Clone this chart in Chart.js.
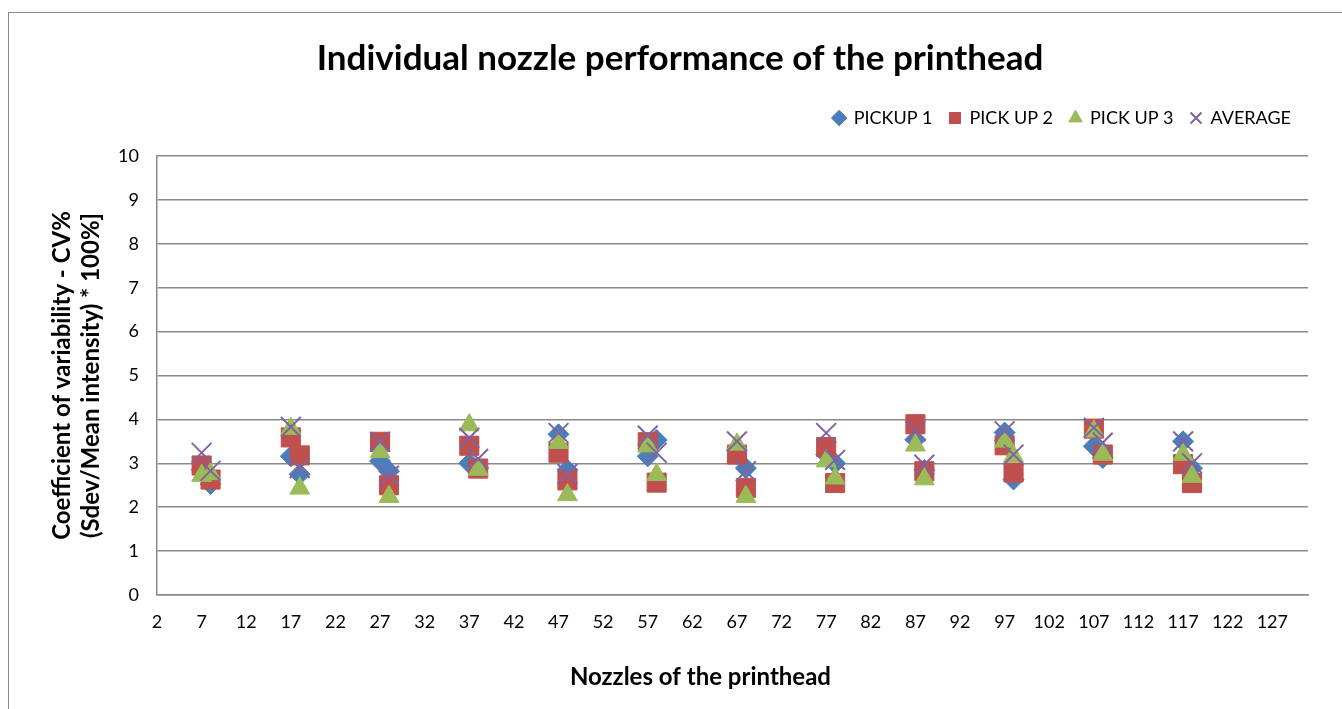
<!DOCTYPE html>
<html lang="en">
<head>
    <meta charset="UTF-8">
    <title>Individual nozzle performance of the printhead</title>
    <script src="https://cdn.jsdelivr.net/npm/chart.js"></script>
    <style>
        html, body { margin: 0; padding: 0; overflow: hidden; background: #fff; }
        #frame { position: absolute; left: 8px; top: 12px; width: 1400px; height: 800px; border: 1px solid #8a8a8a; }
        #nozzleChart { display: block; }
    </style>
</head>
<body>
    <div id="frame">
        <canvas id="nozzleChart" width="1333" height="696"></canvas>
    </div>

    <script>
        // nozzle numbers (x) and CV%
        const nozzles = [7, 8, 17, 18, 27, 28, 37, 38, 47, 48, 57, 58, 67, 68, 77, 78, 87, 88, 97, 98, 107, 108, 117, 118];
        const pickup1 = [2.85, 2.53, 3.16, 2.75, 3.05, 2.82, 3.00, 2.90, 3.66, 2.85, 3.16, 3.53, 3.30, 2.89, 3.20, 3.00, 3.54, 2.85, 3.70, 2.63, 3.39, 3.12, 3.50, 2.89];
        const pickup2 = [2.95, 2.63, 3.59, 3.18, 3.49, 2.50, 3.40, 2.88, 3.24, 2.61, 3.48, 2.56, 3.20, 2.44, 3.37, 2.55, 3.89, 2.82, 3.41, 2.79, 3.79, 3.20, 2.98, 2.55];
        const pickup3 = [2.72, 2.76, 3.79, 2.43, 3.26, 2.24, 3.87, 2.86, 3.47, 2.28, 3.39, 2.74, 3.43, 2.24, 3.05, 2.66, 3.41, 2.64, 3.50, 3.16, 3.73, 3.20, 3.20, 2.70];
        const average = [3.24, 2.83, 3.83, 2.89, 3.49, 2.72, 3.58, 3.10, 3.69, 2.76, 3.63, 3.24, 3.50, 2.82, 3.69, 3.08, 3.73, 2.97, 3.73, 3.20, 3.81, 3.47, 3.50, 3.00];
        const xTicks = [2, 7, 12, 17, 22, 27, 32, 37, 42, 47, 52, 57, 62, 67, 72, 77, 82, 87, 92, 97, 102, 107, 112, 117, 122, 127];

        const FONT = 'Lato, "Open Sans", sans-serif';
        const GRID = '#8a8a8a';

        function pts(values) {
            return values.map((v, i) => ({ x: nozzles[i], y: v }));
        }

        function series(label, values, style, color, radius, order) {
            return {
                label: label,
                data: pts(values),
                showLine: false,
                pointStyle: style,
                pointRadius: radius,
                pointHoverRadius: radius,
                backgroundColor: color,
                borderColor: color,
                pointBorderWidth: style === 'crossRot' ? 2 : 1,
                order: order
            };
        }

        const ctx = document.getElementById('nozzleChart').getContext('2d');
        const chart = new Chart(ctx, {
            type: 'scatter',
            data: {
                datasets: [
                    series('PICKUP 1', pickup1, 'rectRot', '#4a7ebb', 10.5, 4),
                    series('PICK UP 2', pickup2, 'rect', '#c0504d', 13.5, 3),
                    series('PICK UP 3', pickup3, 'triangle', '#9bbb59', 11.5, 2),
                    series('AVERAGE', average, 'crossRot', '#8064a2', 14, 1)
                ]
            },
            options: {
                responsive: false,
                animation: false,
                devicePixelRatio: 1,
                layout: { padding: { left: 43, right: 34, top: 0, bottom: 14 } },
                plugins: {
                    title: {
                        display: true,
                        text: 'Individual nozzle performance of the printhead',
                        color: '#000',
                        font: { family: FONT, size: 35, weight: 'bold', lineHeight: 1.2 },
                        padding: { top: 25, bottom: 12 }
                    },
                    // empty spacer between legend and plot
                    subtitle: {
                        display: true,
                        text: '',
                        weight: 500,
                        font: { size: 9, lineHeight: 1 },
                        padding: 5
                    },
                    legend: {
                        position: 'top',
                        align: 'end',
                        labels: {
                            usePointStyle: true,
                            boxWidth: 11,
                            boxHeight: 11,
                            padding: 17,
                            color: '#000',
                            font: { family: FONT, size: 18 },
                            sort: (a, b) => a.datasetIndex - b.datasetIndex
                        }
                    },
                    tooltip: { enabled: false }
                },
                scales: {
                    x: {
                        type: 'linear',
                        min: 2,
                        max: 131,
                        afterBuildTicks: scale => { scale.ticks = xTicks.map(v => ({ value: v })); },
                        afterFit: scale => { scale.height = 100; },
                        grid: { drawOnChartArea: false, drawTicks: false },
                        border: { display: true, color: GRID, width: 1.5 },
                        ticks: { color: '#000', padding: 16, maxRotation: 0, autoSkip: false, font: { family: FONT, size: 18 } },
                        title: {
                            display: true,
                            // trailing spaces nudge the centred title left, as in the original
                            text: 'Nozzles of the printhead           ',
                            color: '#000',
                            font: { family: FONT, size: 24, weight: 'bold', lineHeight: 1.2 },
                            padding: { top: 0, bottom: 3 }
                        }
                    },
                    y: {
                        min: 0,
                        max: 10,
                        afterFit: scale => { scale.width = 105; },
                        grid: { color: GRID, lineWidth: 1.5, drawTicks: false },
                        border: { display: true, color: GRID, width: 1.5 },
                        ticks: { stepSize: 1, color: '#000', padding: 18, font: { family: FONT, size: 18 } },
                        title: {
                            display: true,
                            text: ['Coefficient of variability - CV%', '(Sdev/Mean intensity) * 100%]'],
                            color: '#000',
                            font: { family: FONT, size: 24, weight: 'bold', lineHeight: 1.2 },
                            padding: { top: -4.4, bottom: 0 }
                        }
                    }
                }
            }
        });
    </script>
</body>
</html>
